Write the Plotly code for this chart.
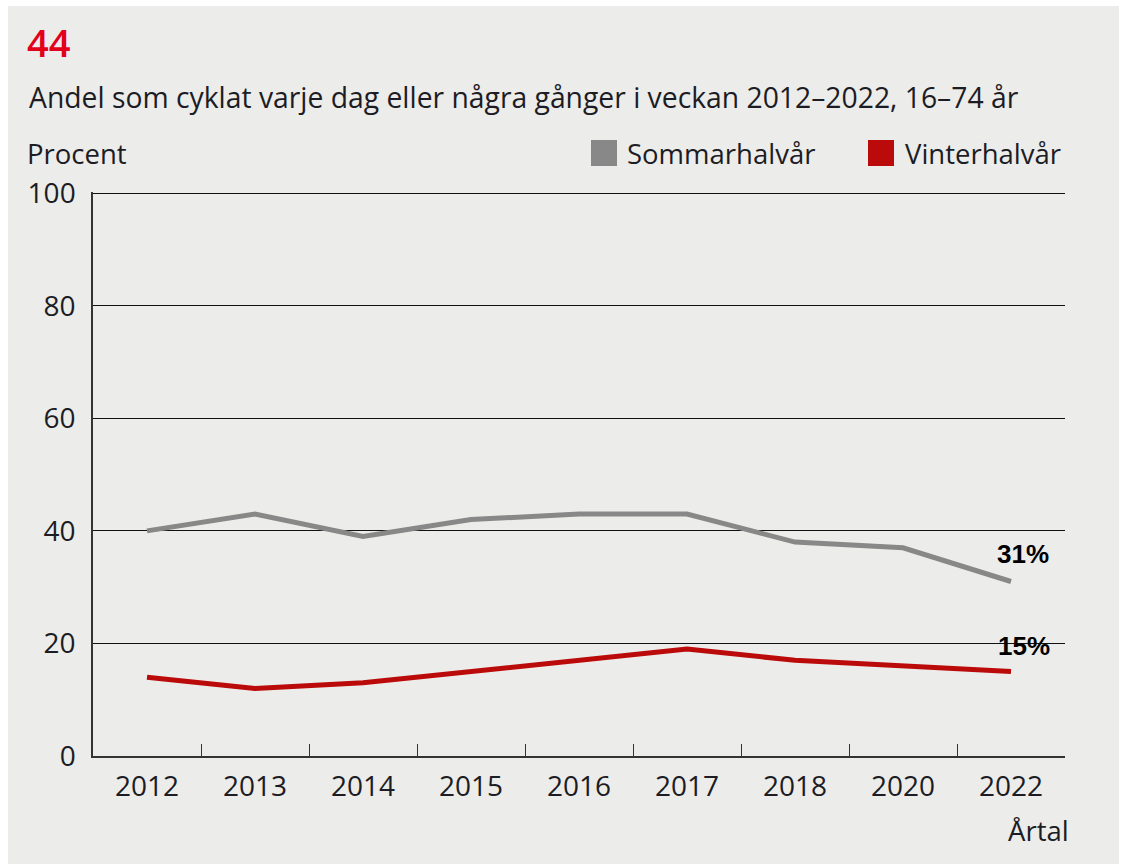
import plotly.graph_objects as go

# Survey data: share cycling daily or a few times a week, ages 16-74
years = ["2012", "2013", "2014", "2015", "2016", "2017", "2018", "2020", "2022"]
sommar = [40, 43, 39, 42, 43, 43, 38, 37, 31]
vinter = [14, 12, 13, 15, 17, 19, 17, 16, 15]

GRAY = "#888888"
RED = "#bb0a0a"
BG = "#ececea"
TXT = "#1c1c24"
FONT = "Open Sans"

W, H = 1127, 864
L, R, T, B = 93, 62, 192, 108
PW, PH = W - L - R, H - T - B


def px_x(px):
    return (px - L) / PW


def px_y(py):
    return 1 - (py - T) / PH


fig = go.Figure()
fig.add_trace(go.Scatter(x=years, y=sommar, mode="lines", name="Sommarhalvår",
                         line=dict(color=GRAY, width=5), showlegend=False))
fig.add_trace(go.Scatter(x=years, y=vinter, mode="lines", name="Vinterhalvår",
                         line=dict(color=RED, width=5), showlegend=False))

# end-of-line value labels (x given as category index of the last year)
last = len(years) - 1
fig.add_annotation(x=last, y=sommar[-1], text=f"<b>{sommar[-1]}%</b>", showarrow=False,
                   xshift=12, yshift=28, font=dict(family="Liberation Sans", size=26, color="#000"))
fig.add_annotation(x=last, y=vinter[-1], text=f"<b>{vinter[-1]}%</b>", showarrow=False,
                   xshift=13, yshift=26, font=dict(family="Liberation Sans", size=26, color="#000"))

shapes = [
    # grey panel with a thin white frame round it
    dict(type="rect", xref="paper", yref="paper", layer="below",
         x0=px_x(8), x1=px_x(1119), y0=px_y(6), y1=px_y(870),
         fillcolor=BG, line=dict(width=0)),
    # legend swatches
    dict(type="rect", xref="paper", yref="paper",
         x0=px_x(591), x1=px_x(617), y0=px_y(140), y1=px_y(166),
         fillcolor=GRAY, line=dict(width=0)),
    dict(type="rect", xref="paper", yref="paper",
         x0=px_x(868), x1=px_x(894), y0=px_y(140), y1=px_y(166),
         fillcolor=RED, line=dict(width=0)),
]

texts = [
    dict(text="44", x=px_x(25), y=px_y(42), size=38, color="#e2001a", weight=600),
    dict(text="Andel som cyklat varje dag eller några gånger i veckan 2012–2022, 16–74 år",
         x=px_x(27), y=px_y(97), size=28.3, color=TXT, weight=400),
    dict(text="Procent", x=px_x(25), y=px_y(153), size=27.5, color=TXT, weight=400),
    dict(text="Sommarhalvår", x=px_x(625), y=px_y(153), size=27.5, color=TXT, weight=400),
    dict(text="Vinterhalvår", x=px_x(903), y=px_y(153), size=27.5, color=TXT, weight=400),
]
for t in texts:
    fig.add_annotation(xref="paper", yref="paper", x=t["x"], y=t["y"], text=t["text"],
                       showarrow=False, xanchor="left", yanchor="middle",
                       font=dict(family=FONT, size=t["size"], color=t["color"], weight=t["weight"]))

fig.add_annotation(xref="paper", yref="paper", x=px_x(1071), y=px_y(830), text="Årtal",
                   showarrow=False, xanchor="right", yanchor="middle",
                   font=dict(family=FONT, size=27.5, color=TXT))

fig.update_layout(
    width=W, height=H,
    margin=dict(l=L, r=R, t=T, b=B),
    paper_bgcolor="white",
    plot_bgcolor=BG,
    shapes=shapes,
    font=dict(family=FONT, color=TXT),
)
fig.update_xaxes(
    type="category", range=[-0.5, len(years) - 0.5],
    showgrid=False, showline=True, linecolor="#333", linewidth=1.5,
    tickson="boundaries", ticks="inside", ticklen=12, tickcolor="#333", tickwidth=1,
    ticklabelstandoff=5,
    tickfont=dict(family=FONT, size=28, color=TXT),
)
fig.update_yaxes(
    range=[0, 100.2], tickvals=[0, 20, 40, 60, 80, 100],
    showgrid=True, gridcolor="#111", gridwidth=1, zeroline=False,
    showline=True, linecolor="#333", linewidth=1.5,
    ticks="", ticklabelstandoff=10,
    tickfont=dict(family=FONT, size=28, color=TXT),
)

fig.write_html("out.html")
